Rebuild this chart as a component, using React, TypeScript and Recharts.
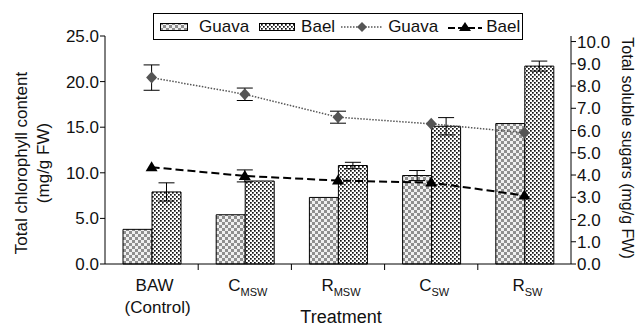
import { ComposedChart, Bar, Line, XAxis, YAxis, ErrorBar } from 'recharts';

const W = 638;
const H = 329;
const LEFT_W = 105;
const RIGHT_W = 67;
const TOP = 36;
const XAXIS_H = 65;
const PLOT_BOTTOM = H - XAXIS_H;
const BAND = (W - LEFT_W - RIGHT_W) / 5;
const FONT = "'Liberation Sans Narrow', 'Liberation Sans', Arial, sans-serif";

// treatments, x-axis labels
const treatments = ['BAW', 'C_MSW', 'R_MSW', 'C_SW', 'R_SW'];
const tickMain = ['BAW', 'C', 'R', 'C', 'R'];
const tickSub = ['', 'MSW', 'MSW', 'SW', 'SW'];

// total chlorophyll (mg/g FW) - bars, left axis
const chlGuava = [3.8, 5.4, 7.3, 9.7, 15.4];
const chlGuavaErr = [null, null, null, 0.55, null];
const chlBael = [7.9, 9.1, 10.8, 15.1, 21.7];
const chlBaelErr = [1.0, null, 0.35, 0.95, 0.55];

// total soluble sugars (mg/g FW) - lines, right axis
const sugGuava = [8.38, 7.63, 6.6, 6.3, 5.9];
const sugGuavaErr = [0.57, 0.28, 0.27, null, null];
const sugBael = [4.35, 3.96, 3.75, 3.66, 3.08];
const sugBaelErr = [null, 0.27, null, null, null];

const leftTicks = [0, 5, 10, 15, 20, 25];
const rightTicks = [0, 1, 2, 3, 4, 5, 6, 7, 8, 9, 10];

const data = treatments.map((t, i) => ({
  t,
  chlGuava: chlGuava[i],
  chlGuavaErr: chlGuavaErr[i],
  chlBael: chlBael[i],
  chlBaelErr: chlBaelErr[i],
  sugGuava: sugGuava[i],
  sugGuavaErr: sugGuavaErr[i],
  sugBael: sugBael[i],
  sugBaelErr: sugBaelErr[i],
}));

const XTick = (props: any) => {
  const { x, index } = props;
  const i = index;
  return (
    <g>
      {i < treatments.length - 1 && (
        <line x1={x + BAND / 2} x2={x + BAND / 2} y1={PLOT_BOTTOM} y2={PLOT_BOTTOM + 6} stroke="#000" />
      )}
      <text x={x + 3} y={291} textAnchor="middle" fontSize={17} fill="#111" fontFamily={FONT}>
        {tickMain[i]}
        {tickSub[i] && <tspan fontSize={11} dy={5}>{tickSub[i]}</tspan>}
      </text>
      {i === 0 && (
        <text x={x + 6} y={313} textAnchor="middle" fontSize={17} fill="#111" fontFamily={FONT}>(Control)</text>
      )}
    </g>
  );
};

const Diamond = (props: any) => {
  const { cx, cy } = props;
  if (cx == null || cy == null) return null;
  return <polygon points={`${cx},${cy - 6} ${cx + 5.5},${cy} ${cx},${cy + 6} ${cx - 5.5},${cy}`} fill="#555" />;
};

const Triangle = (props: any) => {
  const { cx, cy } = props;
  if (cx == null || cy == null) return null;
  return <polygon points={`${cx},${cy - 6} ${cx + 6},${cy + 4} ${cx - 6},${cy + 4}`} fill="#000" />;
};

function ChartLegend() {
  const txt = { fontSize: 17, color: '#111', lineHeight: '17px' };
  return (
    <div style={{ position: 'absolute', left: 153, top: 13, width: 370, height: 27, border: '1px solid #000', boxSizing: 'border-box', display: 'flex', alignItems: 'center', paddingLeft: 6 }}>
      <svg width={28} height={10} style={{ marginRight: 11 }}><rect x={0.5} y={1.5} width={27} height={7} fill="url(#chk)" stroke="#000" /></svg>
      <span style={txt}>Guava</span>
      <svg width={36} height={10} style={{ marginLeft: 10, marginRight: 6 }}><rect x={0.5} y={1.5} width={35} height={7} fill="url(#dots)" stroke="#000" /></svg>
      <span style={txt}>Bael</span>
      <svg width={42} height={14} style={{ marginLeft: 6, marginRight: 5 }}>
        <line x1={0} x2={42} y1={7} y2={7} stroke="#555" strokeWidth={1.5} strokeDasharray="1.5 1.5" />
        <polygon points="21,2 26,7 21,12 16,7" fill="#555" />
      </svg>
      <span style={txt}>Guava</span>
      <svg width={34} height={14} style={{ marginLeft: 10, marginRight: 4 }}>
        <line x1={0} x2={34} y1={8} y2={8} stroke="#000" strokeWidth={2} strokeDasharray="7 3" />
        <polygon points="17,2 23,11 11,11" fill="#000" />
      </svg>
      <span style={txt}>Bael</span>
    </div>
  );
}

export default function App() {
  return (
    <div style={{ position: 'absolute', left: 0, top: 0, width: W, height: H, background: '#fff', fontFamily: FONT }}>
      <ComposedChart width={W} height={H} data={data} margin={{ top: TOP, right: 0, bottom: 0, left: 0 }} barCategoryGap={18} barGap={0}>
        <defs>
          <pattern id="chk" patternUnits="userSpaceOnUse" width={6} height={6}>
            <rect width={6} height={6} fill="#f0f0f0" />
            <rect width={3} height={3} fill="#8f8f8f" />
            <rect x={3} y={3} width={3} height={3} fill="#8f8f8f" />
          </pattern>
          <pattern id="dots" patternUnits="userSpaceOnUse" width={4} height={4}>
            <rect width={4} height={4} fill="#fff" />
            <rect width={1.7} height={1.7} fill="#111" />
            <rect x={2} y={2} width={1.7} height={1.7} fill="#111" />
          </pattern>
        </defs>
        <XAxis
          dataKey="t"
          height={XAXIS_H}
          axisLine={{ stroke: '#000' }}
          tickLine={false}
          interval={0}
          tick={<XTick />}
        />
        <YAxis
          yAxisId="left"
          width={LEFT_W}
          domain={[0, 25]}
          ticks={leftTicks}
          interval={0}
          tickFormatter={(v: number) => v.toFixed(1)}
          axisLine={{ stroke: '#000' }}
          tickLine={{ stroke: '#000' }}
          tickSize={5}
          tickMargin={1}
          tick={{ fontSize: 17, fill: '#111', fontFamily: FONT }}
        />
        <YAxis
          yAxisId="right"
          orientation="right"
          width={RIGHT_W}
          domain={[0, 10.25]}
          ticks={rightTicks}
          interval={0}
          tickFormatter={(v: number) => v.toFixed(1)}
          axisLine={{ stroke: '#000' }}
          tickLine={{ stroke: '#000' }}
          tickSize={5}
          tickMargin={1}
          tick={{ fontSize: 17, fill: '#111', fontFamily: FONT }}
        />
        <Bar yAxisId="left" dataKey="chlGuava" fill="url(#chk)" stroke="#000" strokeWidth={1} isAnimationActive={false}>
          <ErrorBar dataKey="chlGuavaErr" width={8} stroke="#000" strokeWidth={1} />
        </Bar>
        <Bar yAxisId="left" dataKey="chlBael" fill="url(#dots)" stroke="#000" strokeWidth={1} isAnimationActive={false}>
          <ErrorBar dataKey="chlBaelErr" width={8} stroke="#000" strokeWidth={1} />
        </Bar>
        <Line yAxisId="right" dataKey="sugGuava" stroke="#555" strokeWidth={1.5} strokeDasharray="1.5 1.5" dot={<Diamond />} activeDot={false} isAnimationActive={false}>
          <ErrorBar dataKey="sugGuavaErr" width={8} stroke="#000" strokeWidth={1} />
        </Line>
        <Line yAxisId="right" dataKey="sugBael" stroke="#000" strokeWidth={2} strokeDasharray="8 4" dot={<Triangle />} activeDot={false} isAnimationActive={false}>
          <ErrorBar dataKey="sugBaelErr" width={8} stroke="#000" strokeWidth={1} />
        </Line>
      </ComposedChart>
      <svg width={W} height={H} style={{ position: 'absolute', left: 0, top: 0, pointerEvents: 'none' }}>
        <text transform="translate(21,163) rotate(-90)" textAnchor="middle" dominantBaseline="central" fontSize={17} fill="#111" fontFamily={FONT}>Total chlorophyll content</text>
        <text transform="translate(43,163) rotate(-90)" textAnchor="middle" dominantBaseline="central" fontSize={17} fill="#111" fontFamily={FONT}>(mg/g FW)</text>
        <text transform="translate(627,148) rotate(90)" textAnchor="middle" dominantBaseline="central" fontSize={16} fill="#111" fontFamily={FONT}>Total soluble sugars (mg/g FW)</text>
        <text x={341} y={323} textAnchor="middle" fontSize={18} fill="#111" fontFamily={FONT}>Treatment</text>
      </svg>
      <ChartLegend />
    </div>
  );
}
